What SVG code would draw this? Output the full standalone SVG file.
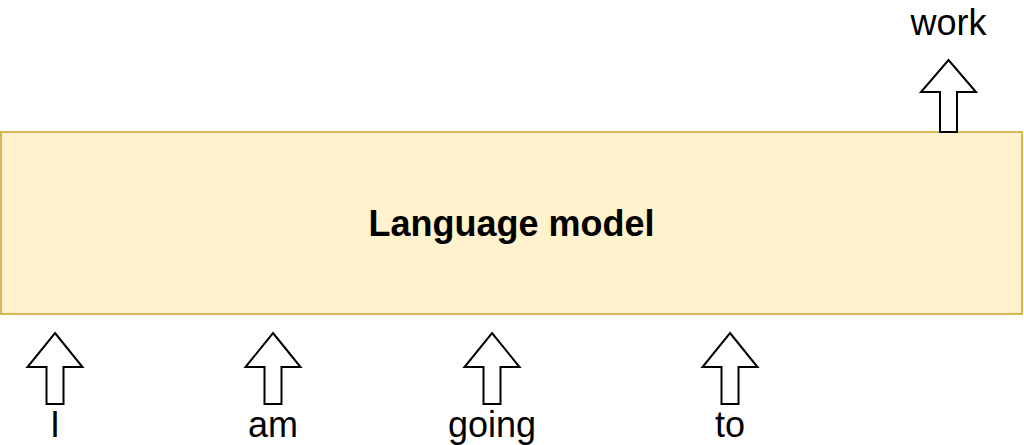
<svg xmlns="http://www.w3.org/2000/svg" width="1024" height="445" viewBox="0 0 1024 445">
  <defs>
    <style>
      .model { fill: #fff2cc; stroke: #d6b656; stroke-width: 2; }
      .arrow { fill: #ffffff; stroke: #000000; stroke-width: 2; stroke-linejoin: miter; }
      .word { font-family: "Liberation Sans", Arial, sans-serif; font-size: 36px; fill: #000000; text-anchor: middle; }
      .title { font-family: "Liberation Sans", Arial, sans-serif; font-size: 36px; font-weight: bold; fill: #000000; text-anchor: middle; }
    </style>
    <!-- block arrow pointing up, origin at the tip -->
    <path id="up-arrow" d="M0 0 L27.5 34 L8.5 34 L8.5 71 L-8.5 71 L-8.5 34 L-27.5 34 Z"/>
  </defs>

  <g id="language-model">
    <rect class="model" x="1" y="132" width="1021" height="182"/>
    <text class="title" x="511.5" y="236">Language model</text>
  </g>

  <g id="connectors">
    <use href="#up-arrow" class="arrow" x="55" y="333"/>
    <use href="#up-arrow" class="arrow" x="273" y="333"/>
    <use href="#up-arrow" class="arrow" x="492" y="333"/>
    <use href="#up-arrow" class="arrow" x="730" y="333"/>
    <path class="arrow" d="M948.5 60 L976 92 L957 92 L957 132 L940 132 L940 92 L921 92 Z"/>
  </g>

  <g id="token-i"><text class="word" x="55" y="437">I</text></g>
  <g id="token-am"><text class="word" x="273" y="437">am</text></g>
  <g id="token-going"><text class="word" x="492" y="437">going</text></g>
  <g id="token-to"><text class="word" x="730" y="437">to</text></g>
  <g id="token-work"><text class="word" x="948.5" y="35">work</text></g>
</svg>
